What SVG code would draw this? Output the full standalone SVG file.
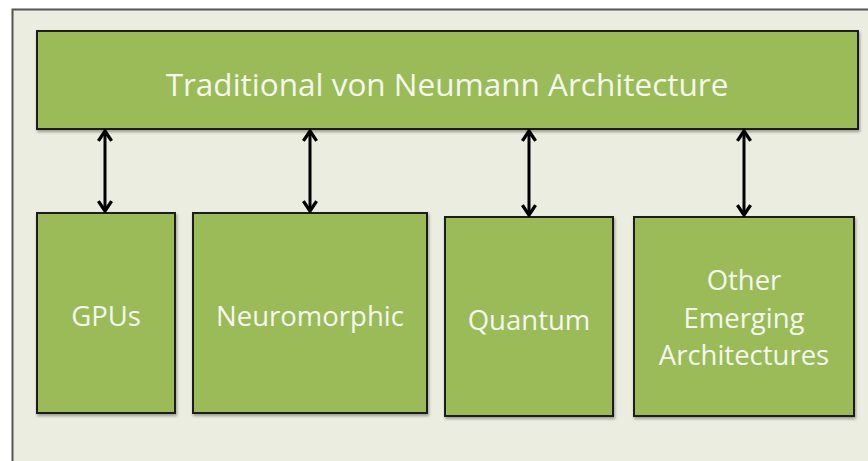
<svg xmlns="http://www.w3.org/2000/svg" width="868" height="461" viewBox="0 0 868 461">
<defs>
<style>
.box{fill:#9BBB59;stroke:#1f1f1f;stroke-width:2;filter:url(#sh)}
.lbl{font-family:"Open Sans","Liberation Sans",sans-serif;font-size:27.5px;fill:#F4F7EE;text-anchor:middle}
.ttl{font-size:31.5px}
.con{stroke:#000;stroke-width:3;fill:none;marker-start:url(#ah);marker-end:url(#ah)}
</style>
<filter id="sh" x="-10%" y="-10%" width="120%" height="120%">
<feDropShadow dx="1" dy="2" stdDeviation="1.5" flood-color="#000" flood-opacity="0.35"/>
</filter>
<marker id="ah" viewBox="0 0 10 10" refX="9" refY="5" markerWidth="5.5" markerHeight="5.5" orient="auto-start-reverse" markerUnits="strokeWidth">
<path d="M3,1 L9,5 L3,9" fill="none" stroke="#000" stroke-width="2"/>
</marker>
</defs>
<rect x="0" y="0" width="868" height="461" fill="#ffffff"/>
<rect x="12.5" y="9.5" width="870" height="470" fill="#EAEDDF" stroke="#555" stroke-width="2"/>
<g id="top">
<rect class="box" x="37" y="31" width="821" height="98"/>
<text class="lbl ttl" x="447" y="96">Traditional von Neumann Architecture</text>
</g>
<g id="gpus">
<rect class="box" x="37" y="213" width="138" height="200"/>
<text class="lbl" x="106" y="326">GPUs</text>
</g>
<g id="neuromorphic">
<rect class="box" x="193" y="213" width="234" height="200"/>
<text class="lbl" x="310" y="326">Neuromorphic</text>
</g>
<g id="quantum">
<rect class="box" x="445" y="217" width="168" height="199"/>
<text class="lbl" x="529" y="330">Quantum</text>
</g>
<g id="other">
<rect class="box" x="634" y="217" width="220" height="199"/>
<text class="lbl" x="744" y="290">Other</text>
<text class="lbl" x="744" y="328">Emerging</text>
<text class="lbl" x="744" y="365">Architectures</text>
</g>
<g id="connectors">
<line class="con" x1="105" y1="131" x2="105" y2="211"/>
<line class="con" x1="310" y1="131" x2="310" y2="211"/>
<line class="con" x1="529" y1="131" x2="529" y2="215"/>
<line class="con" x1="744" y1="131" x2="744" y2="215"/>
</g>
</svg>
